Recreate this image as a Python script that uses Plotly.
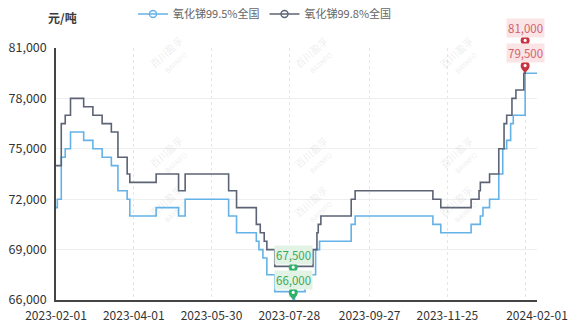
import plotly.graph_objects as go

# 氧化锑99.8%全国 — step change dates and prices (元/吨)
dates_998 = ["2023-02-01", "2023-02-05", "2023-02-08", "2023-02-12", "2023-02-22",
             "2023-03-01", "2023-03-08", "2023-03-15", "2023-03-20", "2023-03-27",
             "2023-03-29", "2023-04-18", "2023-05-05", "2023-05-10", "2023-06-12",
             "2023-06-18", "2023-07-03", "2023-07-06", "2023-07-09", "2023-07-11",
             "2023-07-17", "2023-07-31", "2023-08-01", "2023-08-15", "2023-08-18",
             "2023-08-19", "2023-08-21", "2023-09-13", "2023-09-16", "2023-11-14",
             "2023-11-20", "2023-12-13", "2023-12-19", "2023-12-20", "2023-12-27",
             "2024-01-03", "2024-01-07", "2024-01-09", "2024-01-13", "2024-01-16",
             "2024-01-22", "2024-01-23"]
vals_998 = [74000, 76500, 77000, 78000, 77500,
            77000, 76500, 76000, 74500, 73500,
            73000, 73500, 72500, 73500, 72500,
            71500, 70500, 70000, 69500, 69000,
            68000, 67500, 68000, 69000, 70000,
            70500, 71000, 72000, 72500, 72000,
            71500, 72000, 72500, 73000, 73500,
            75000, 76500, 77000, 78000, 78500,
            79500, 81000]

# 氧化锑99.5%全国
dates_995 = ["2023-02-01", "2023-02-02", "2023-02-05", "2023-02-08", "2023-02-12",
             "2023-02-22", "2023-03-01", "2023-03-08", "2023-03-15", "2023-03-20",
             "2023-03-27", "2023-03-29", "2023-04-18", "2023-05-05", "2023-05-10",
             "2023-06-12", "2023-06-18", "2023-07-03", "2023-07-05", "2023-07-08",
             "2023-07-11", "2023-07-17", "2023-07-31", "2023-08-01", "2023-08-09",
             "2023-08-17", "2023-08-20", "2023-09-13", "2023-09-16", "2023-11-14",
             "2023-11-20", "2023-12-13", "2023-12-20", "2023-12-22", "2023-12-27",
             "2024-01-03", "2024-01-06", "2024-01-09", "2024-01-12", "2024-01-14",
             "2024-01-23", "2024-02-01"]
vals_995 = [71500, 72000, 74500, 75000, 76000,
            75500, 75000, 74500, 74000, 72500,
            72000, 71000, 71500, 71000, 72000,
            71000, 70000, 69500, 69000, 68500,
            67500, 66500, 66000, 66500, 67500,
            69000, 69500, 70500, 71000, 70500,
            70000, 70500, 71000, 71500, 72000,
            73500, 75000, 75500, 76500, 77000,
            79500, 79500]

series_names = ["氧化锑99.5%全国", "氧化锑99.8%全国"]
series_colors = ["#64b2e6", "#5b6374"]

tick_dates = ["2023-02-01", "2023-04-01", "2023-05-30", "2023-07-28",
              "2023-09-27", "2023-11-25", "2024-01-23", "2024-02-01"]
tick_text = ["2023-02-01", "2023-04-01", "2023-05-30", "2023-07-28",
             "2023-09-27", "2023-11-25", "", "2024-02-01"]
y_ticks = [66000, 69000, 72000, 75000, 78000, 81000]
y_min, y_max = 66000, 81000

# extreme-value pins: (date, value, kind)
pins = [("2024-01-23", 81000, "max"), ("2024-01-23", 79500, "max"),
        ("2023-07-31", 67500, "min"), ("2023-07-31", 66000, "min")]

font_family = "Noto Sans CJK SC, Noto Sans, sans-serif"

# plot area in pixels, used to place free text in paper coordinates
W, H = 573, 322
L, R, T, B = 56, 36, 48, 22
PW, PH = W - L - R, H - T - B


def px_to_paper(px, py):
    return (px - L) / PW, (H - B - py) / PH


fig = go.Figure()
for name, color, xs, ys in [(series_names[0], series_colors[0], dates_995, vals_995),
                            (series_names[1], series_colors[1], dates_998, vals_998)]:
    fig.add_trace(go.Scatter(x=xs, y=ys, mode="lines", name=name,
                             line=dict(color=color, width=1.6, shape="hv"),
                             showlegend=False, hoverinfo="x+y"))
    # legend entry with the open-circle symbol
    fig.add_trace(go.Scatter(x=[None], y=[None], mode="lines+markers", name=name,
                             line=dict(color=color, width=1.4),
                             marker=dict(symbol="circle-open", size=7, color=color,
                                         line=dict(width=1.4))))

pin_path = ("M0,0 C-1,2 -4.5,4 -4.5,7.5 C-4.5,10.5 -2.5,12 0,12 "
            "C2.5,12 4.5,10.5 4.5,7.5 C4.5,4 1,2 0,0 Z")
shapes = []
annotations = []
for d, v, kind in pins:
    pin_color = "#c8323f" if kind == "max" else "#2fb16a"
    txt_color = "#d2626c" if kind == "max" else "#3aa95a"
    bg_color = "#fbe4e6" if kind == "max" else "#e2f3e6"
    # y anchored in paper units so the pin is not clipped at the plot edge
    v_paper = (v - y_min) / (y_max - y_min)
    shapes.append(dict(type="path", xref="x", yref="paper", xsizemode="pixel",
                       ysizemode="pixel", xanchor=d, yanchor=v_paper, path=pin_path,
                       fillcolor=pin_color, line=dict(width=0)))
    shapes.append(dict(type="circle", xref="x", yref="paper", xsizemode="pixel",
                       ysizemode="pixel", xanchor=d, yanchor=v_paper,
                       x0=-1.6, x1=1.6, y0=6, y1=9.2,
                       fillcolor="white", line=dict(width=0)))
    annotations.append(dict(x=d, y=v, xref="x", yref="y", text=f"{v:,}",
                            showarrow=False, yshift=20, bgcolor=bg_color,
                            borderpad=1,
                            font=dict(size=11.5, color=txt_color, family=font_family)))

ux, uy = px_to_paper(46, 17)
annotations.append(dict(x=ux, y=uy, xref="paper", yref="paper", text="<b>元/吨</b>",
                        showarrow=False, xanchor="left", yanchor="middle",
                        font=dict(size=12, color="#3a3a3a", family=font_family)))

# faint watermark
for wx, wy in [(143, 30), (315, 30), (487, 30), (143, 130), (315, 130), (487, 130),
               (143, 232), (315, 232), (487, 232)]:
    ax_, ay_ = px_to_paper(wx, wy)
    annotations.append(dict(x=ax_, y=ay_, xref="paper", yref="paper",
                            text="百川盈孚<br><span style='font-size:7px'>BAIINFO</span>",
                            showarrow=False, textangle=-42,
                            font=dict(size=10, color="rgba(170,170,170,0.22)",
                                      family=font_family)))

fig.update_layout(
    width=W, height=H,
    margin=dict(l=L, r=R, t=T, b=B),
    paper_bgcolor="white", plot_bgcolor="white",
    font=dict(family=font_family, color="#333"),
    showlegend=True,
    legend=dict(orientation="h", xref="container", yref="container",
                x=265 / W, y=1 - 14 / H, xanchor="center", yanchor="middle",
                font=dict(size=11, color="#666", family=font_family),
                itemwidth=30, tracegroupgap=0, bgcolor="rgba(0,0,0,0)"),
    shapes=shapes,
    annotations=annotations,
)
fig.update_xaxes(type="date", range=["2023-02-01", "2024-02-01"],
                 tickmode="array", tickvals=tick_dates, ticktext=tick_text,
                 showgrid=True, gridcolor="#e6e6e6", griddash="dot", gridwidth=1,
                 showline=True, linecolor="#444", linewidth=1.5,
                 ticks="", ticklabelstandoff=4, automargin=False,
                 tickfont=dict(size=12, color="#333", family=font_family),
                 zeroline=False, fixedrange=True)
fig.update_yaxes(range=[y_min, y_max], tickmode="array", tickvals=y_ticks,
                 tickformat=",d", showgrid=True, gridcolor="#eeeeee", gridwidth=1,
                 showline=True, linecolor="#444", linewidth=1.5,
                 ticks="", ticklabelstandoff=5, automargin=False,
                 tickfont=dict(size=12.5, color="#333", family=font_family),
                 zeroline=False, fixedrange=True)

fig.write_html("out.html")
